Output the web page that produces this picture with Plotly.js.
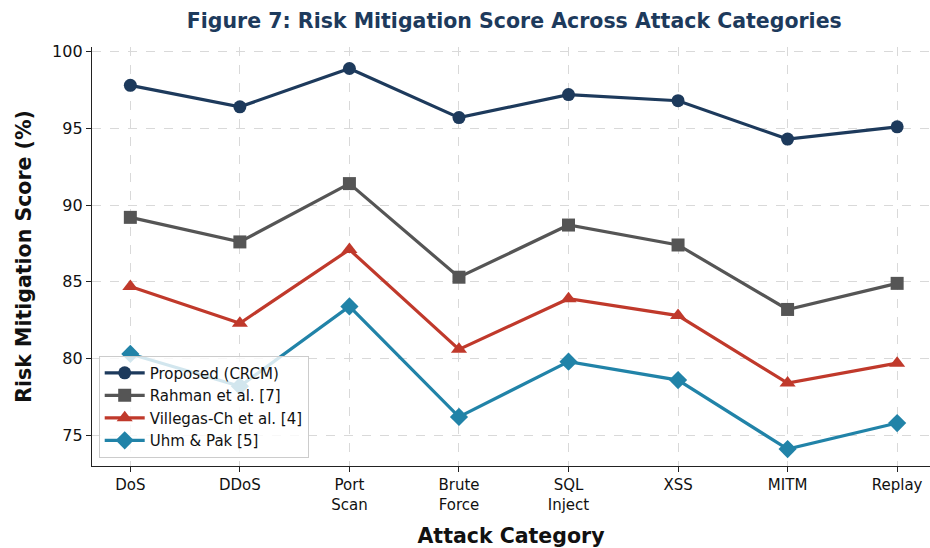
<!DOCTYPE html>
<html>
<head>
<meta charset="utf-8">
<script src="https://cdn.plot.ly/plotly-3.0.1.min.js"></script>
<style>
  html, body { margin: 0; padding: 0; background: #fff; }
  #chart { width: 930px; height: 548px; }
</style>
</head>
<body>
<div id="chart"></div>
<script>
// Attack categories on the x axis
const categories = ["DoS", "DDoS", "Port<br>Scan", "Brute<br>Force", "SQL<br>Inject", "XSS", "MITM", "Replay"];

// Risk mitigation score (%) per method
const proposed = [97.8, 96.4, 98.9, 95.7, 97.2, 96.8, 94.3, 95.1];
const rahman   = [89.2, 87.6, 91.4, 85.3, 88.7, 87.4, 83.2, 84.9];
const villegas = [84.7, 82.3, 87.1, 80.6, 83.9, 82.8, 78.4, 79.7];
const uhmPak   = [80.3, 78.2, 83.4, 76.2, 79.8, 78.6, 74.1, 75.8];

const seriesNames = ["Proposed (CRCM)", "Rahman et al. [7]", "Villegas-Ch et al. [4]", "Uhm & Pak [5]"];
const yTicks = [75, 80, 85, 90, 95, 100];

const colors  = ["#1d3a5c", "#555555", "#c0392b", "#2183a8"];
const symbols = ["circle", "square", "triangle-up", "diamond"];
const sizes   = [13, 13, 14, 14];

const xIdx = categories.map((_, i) => i);
const traces = [proposed, rahman, villegas, uhmPak].map((vals, k) => ({
  type: "scatter",
  mode: "lines+markers",
  name: seriesNames[k],
  x: xIdx,
  y: vals,
  line: { color: colors[k], width: 3.2 },
  marker: { color: colors[k], symbol: symbols[k], size: sizes[k], line: { width: 0 } }
}));

const layout = {
  width: 930,
  height: 548,
  paper_bgcolor: "#ffffff",
  plot_bgcolor: "#ffffff",
  margin: { l: 92, r: 0, t: 47, b: 82 },
  font: { family: "DejaVu Sans, sans-serif", color: "#111111" },
  title: {
    text: "<b>Figure 7: Risk Mitigation Score Across Attack Categories</b>",
    font: { family: "DejaVu Sans, sans-serif", size: 20.5, color: "#1d3a5c" },
    x: 0.553, xanchor: "center", y: 0.962, yanchor: "middle"
  },
  xaxis: {
    range: [-0.35, 7.3],
    tickvals: xIdx,
    ticktext: categories,
    tickfont: { size: 15, color: "#111" },
    ticks: "outside", ticklen: 5, tickwidth: 1, tickcolor: "#222",
    showline: true, linecolor: "#222", linewidth: 1.2,
    showgrid: true, gridcolor: "#d9d9d9", griddash: "dash", gridwidth: 1,
    zeroline: false,
    title: { text: "<b>Attack Category</b>", font: { size: 20.5, color: "#111" }, standoff: 18 }
  },
  yaxis: {
    range: [73, 100.3],
    tickvals: yTicks,
    tickfont: { size: 16, color: "#111" },
    ticks: "outside", ticklen: 5, tickwidth: 1, tickcolor: "#222",
    showline: true, linecolor: "#222", linewidth: 1.2,
    showgrid: true, gridcolor: "#d9d9d9", griddash: "dash", gridwidth: 1,
    zeroline: false,
    title: { text: "<b>Risk Mitigation Score (%)</b>", font: { size: 20.5, color: "#111" }, standoff: 14 }
  },
  legend: {
    x: 0.008, y: 0.02, xanchor: "left", yanchor: "bottom",
    bgcolor: "rgba(255,255,255,0.8)",
    bordercolor: "#cccccc", borderwidth: 1,
    font: { size: 15, color: "#111" },
    itemwidth: 40,
    tracegroupgap: 0
  },
  showlegend: true
};

Plotly.newPlot("chart", traces, layout, { displayModeBar: false, staticPlot: true });
</script>
</body>
</html>
